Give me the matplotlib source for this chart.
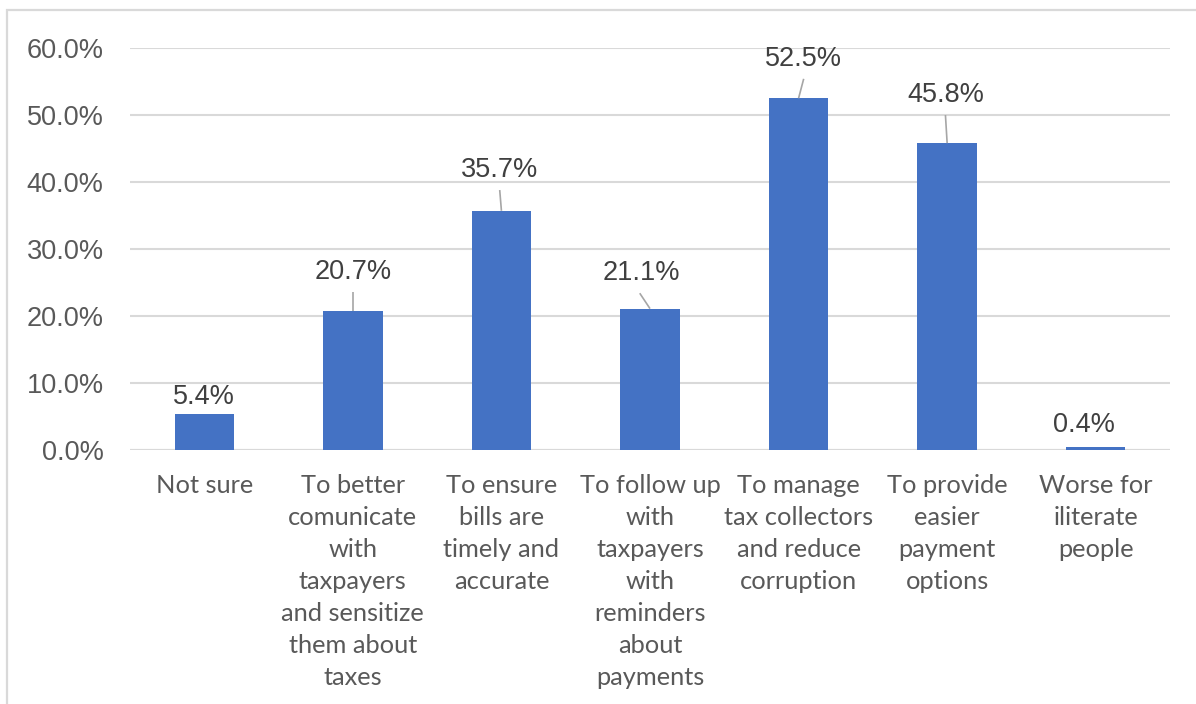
import matplotlib
matplotlib.use("Agg")
import matplotlib.pyplot as plt
from matplotlib.patches import Rectangle
from matplotlib.ticker import FuncFormatter

categories = [
    "Not sure",
    "To better\ncomunicate\nwith\ntaxpayers\nand sensitize\nthem about\ntaxes",
    "To ensure\nbills are\ntimely and\naccurate",
    "To follow up\nwith\ntaxpayers\nwith\nreminders\nabout\npayments",
    "To manage\ntax collectors\nand reduce\ncorruption",
    "To provide\neasier\npayment\noptions",
    "Worse for\niliterate\npeople",
]
shares = [5.4, 20.7, 35.7, 21.1, 52.5, 45.8, 0.4]
y_ticks = [0, 10, 20, 30, 40, 50, 60]

# where each value label sits relative to its bar (x shift, height above top),
# and whether a leader line joins them
label_dx = [0.0, 0.0, -0.01, -0.06, 0.03, -0.01, -0.08]
label_dy = [2.5, 5.9, 6.1, 5.3, 5.9, 7.2, 3.3]
leader = [False, True, True, True, True, True, False]

BLUE = "#4472C4"
GRID = "#D9D9D9"
NUM_FONT = "Liberation Sans"
CAT_FONT = "Lato"

fig = plt.figure(figsize=(11.96, 7.04), dpi=100)
ax = fig.add_axes([130 / 1196, 1 - 450 / 704, 1040 / 1196, 402 / 704])

# outer chart-area frame, running off the right and bottom edges
fig.patches.append(Rectangle((7 / 1196, -0.1), 1.2, 1 - 10 / 704 + 0.1,
                             transform=fig.transFigure, fill=False,
                             edgecolor=GRID, linewidth=1.6))

x = list(range(len(categories)))
ax.bar(x, shares, width=0.4, color=BLUE, zorder=3)

ax.set_xlim(-0.5, len(categories) - 0.5)
ax.set_ylim(0, 60)
ax.set_yticks(y_ticks)
ax.yaxis.set_major_formatter(FuncFormatter(lambda v, _: f"{v:.1f}%"))
ax.grid(axis="y", color=GRID, linewidth=1.5, zorder=0)
for s in ax.spines.values():
    s.set_visible(False)
ax.axhline(0, color=GRID, linewidth=1.5, zorder=2)

ax.tick_params(axis="y", length=0, pad=19, labelsize=19.5, labelcolor="#595959")
ax.tick_params(axis="x", length=0, pad=17.5)
for t in ax.get_yticklabels():
    t.set_fontfamily(NUM_FONT)
ax.set_xticks(x)
ax.set_xticklabels(categories, fontfamily=CAT_FONT, fontsize=18.3,
                   color="#595959", linespacing=1.47, va="top")

for i, v in enumerate(shares):
    lx = i + label_dx[i]
    ly = v + label_dy[i]
    ax.text(lx, ly, f"{v:.1f}%", ha="center", va="center",
            fontfamily=NUM_FONT, fontsize=19.5, color="#404040", zorder=4)
    if leader[i]:
        ax.plot([lx + label_dx[i] * 0.15, i], [ly - 3.0, v], color="#A6A6A6",
                linewidth=1.2, zorder=4, solid_capstyle="butt")

fig.savefig("out.png", dpi=100)
